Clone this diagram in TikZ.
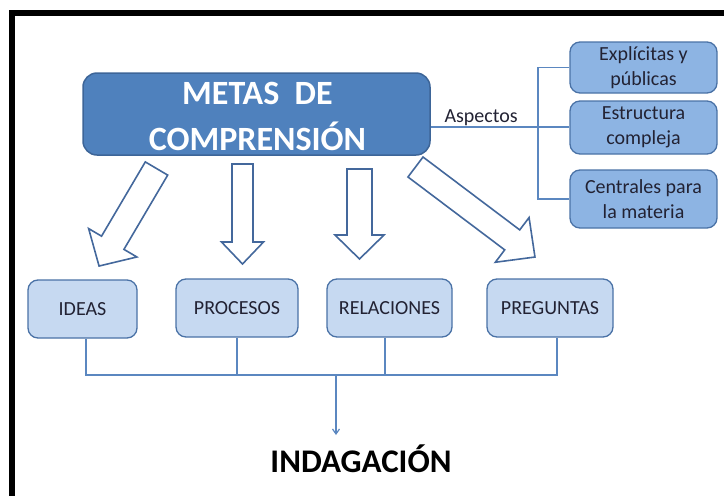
\documentclass[tikz,border=0pt]{standalone}
\usepackage{fontspec}
\setmainfont{Carlito}
\usetikzlibrary{arrows.meta}
\definecolor{mainfill}{HTML}{4F81BD}
\definecolor{mainborder}{HTML}{3D6598}
\definecolor{rfill}{HTML}{8DB4E3}
\definecolor{bfill}{HTML}{C6D9F1}
\definecolor{boxborder}{HTML}{4A72A6}
\definecolor{linecol}{HTML}{5B87C0}
\definecolor{arrcol}{HTML}{44689C}
\definecolor{txt}{HTML}{222233}
\tikzset{
  mainbox/.style={draw=mainborder, fill=mainfill, line width=1.5pt, rounded corners=14pt},
  maintext/.style={text=white, align=center, font=\fontsize{34}{46}\selectfont\bfseries},
  rbox/.style={draw=boxborder, fill=rfill, line width=1.3pt, rounded corners=10pt,
    text=txt, align=center, minimum width=147pt, font=\fontsize{20}{25}\selectfont},
  bbox/.style={draw=boxborder, fill=bfill, line width=1.3pt, rounded corners=10pt,
    text=txt, align=center, minimum height=58pt, font=\fontsize{20}{24}\selectfont},
  conn/.style={draw=linecol, line width=1.2pt},
  barrow/.style={draw=arrcol, fill=white, line width=1.6pt, line join=miter}
}
\newcommand\blockarr[7]{%
  \draw[barrow, shift={(#1,#2)}, rotate=#3]
    (0,#5) -- ({#4-#7},#5) -- ({#4-#7},#6) -- (#4,0) -- ({#4-#7},-#6)
    -- ({#4-#7},-#5) -- (0,-#5) -- cycle;}
\begin{document}
\begin{tikzpicture}[x=1pt,y=1pt]
\useasboundingbox (0,0) rectangle (724,-496);
% frame
\draw[line width=6pt] (12,-496) -- (12,-13) -- (724,-13);

% main node
\node[mainbox, minimum width=347pt, minimum height=82pt] (main) at (256.5,-114) {};
\node[maintext] (mainlbl) at (257.5,-116.5) {METAS\ \ DE\\COMPRENSIÓN};

% right boxes
\node[rbox, minimum height=51pt] (r1) at (643.5,-67.5) {Explícitas y\\públicas};
\node[rbox, minimum height=53pt] (r2) at (643.5,-127.5) {Estructura\\compleja};
\node[rbox, minimum height=58pt] (r3) at (643.5,-199) {Centrales para\\la materia};

% aspects connectors
\coordinate (bk) at (538,-127);
\draw[conn] (main.east |- bk) -- (r2.west |- bk);
\draw[conn] (r1.west) -- (r1.west -| bk) -- (r3.west -| bk) -- (r3.west);
\node[anchor=base west, text=txt, font=\fontsize{20}{24}\selectfont] (asp) at (441,-122) {Aspectos};

% block arrows
\blockarr{156.5}{-168.5}{-120.5}{113.2}{13}{28}{27}
\blockarr{242.5}{-164}{-90}{100}{10.5}{21}{22}
\blockarr{359.5}{-169}{-90}{90}{12.5}{24.5}{24}
\blockarr{415.5}{-167}{-37}{149.6}{12.5}{28}{28.5}

% bottom boxes
\node[bbox, minimum width=109pt] (ideas) at (82.5,-309) {IDEAS};
\node[bbox, minimum width=122pt] (proc) at (237,-308) {PROCESOS};
\node[bbox, minimum width=125pt] (rel) at (389.5,-308) {RELACIONES};
\node[bbox, minimum width=126pt] (preg) at (550,-308) {PREGUNTAS};

% bus
\coordinate (b1) at (86,-375);
\coordinate (b2) at (237,-375);
\coordinate (b3) at (385,-375);
\coordinate (b4) at (557,-375);
\coordinate (bm) at (336,-375);
\draw[conn] (ideas.south -| b1) -- (b1) -- (b4) -- (preg.south -| b4);
\draw[conn] (proc.south -| b2) -- (b2);
\draw[conn] (rel.south -| b3) -- (b3);

\node[anchor=base, text=black, font=\fontsize{33}{40}\selectfont\bfseries] (ind) at (361,-472) {INDAGACIÓN};
\coordinate (ie) at (336,-435);
\draw[conn, -{Straight Barb[length=5pt,width=7pt]}] (bm) -- (ie);
\end{tikzpicture}
\end{document}
